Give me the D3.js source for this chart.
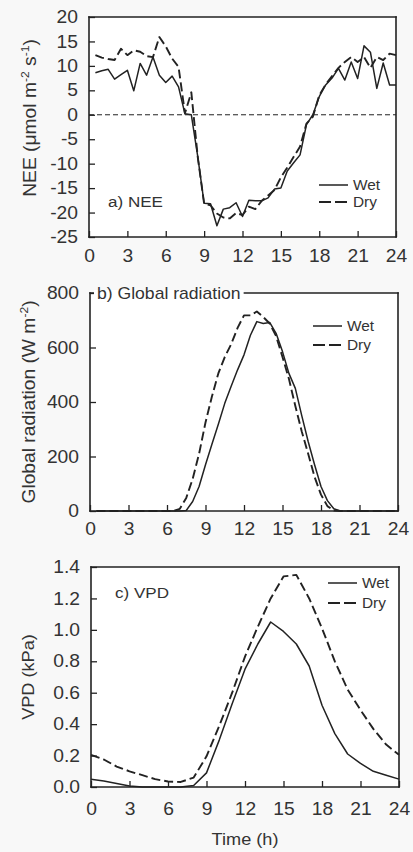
<!DOCTYPE html>
<html>
<head>
<meta charset="utf-8">
<script src="https://cdn.jsdelivr.net/npm/d3@7"></script>
<style>
  body { margin: 0; background: #f8f8f8; }
  svg { display: block; }
  text { font-family: "Liberation Sans", Arial, sans-serif; fill: #333; }
</style>
</head>
<body>
<div id="chart"></div>
<script>
// half-hourly NEE (umol m-2 s-1)
const neeHours = [0.5,1,1.5,2,2.5,3,3.5,4,4.5,5,5.5,6,6.5,7,7.5,8,8.5,9,9.5,10,10.5,11,11.5,12,
  12.5,13,13.5,14,14.5,15,15.5,16,16.5,17,17.5,18,18.5,19,19.5,20,20.5,21,21.5,22,22.5,23,23.5,24];
const neeWet = [8.6,9.0,9.3,7.3,8.2,9.1,4.9,10.5,8.1,11.8,8.1,6.6,7.9,5.7,0.2,0.0,-8.5,-18.1,-18.2,-22.7,
  -19.3,-19.0,-18.0,-20.8,-17.5,-17.6,-17.6,-17.0,-15.2,-15.0,-11.5,-9.8,-8.2,-2.0,0.0,3.7,6.1,7.5,9.5,7.1,
  10.8,7.4,14.1,12.8,5.4,10.6,6.1,6.1];
const neeDry = [12.2,11.7,11.4,11.2,13.5,12.2,13.2,12.9,12.0,11.8,15.9,14.0,11.5,9.8,0.3,4.6,-8.6,-18.2,-18.5,-20.2,
  -21.0,-21.2,-20.1,-20.5,-18.8,-19.3,-17.6,-16.5,-15.4,-12.8,-10.8,-8.6,-6.5,-1.8,-0.4,4.0,6.2,7.9,9.6,10.8,
  11.8,10.8,11.8,9.6,11.8,11.2,12.5,12.2];

// global radiation (W m-2), same half-hourly times
const radWet = [0,0,0,0,0,0,0,0,0,0,0,0,0,0,2,35,90,170,245,318,395,458,518,573,
  645,695,688,692,652,585,505,450,350,255,170,90,38,8,0,0,0,0,0,0,0,0,0,0];
const radDry = [0,0,0,0,0,0,0,0,0,0,0,0,0,8,48,118,210,325,420,505,565,612,672,718,
  718,732,712,688,642,565,485,385,292,210,125,60,18,2,0,0,0,0,0,0,0,0,0,0];

// hourly VPD (kPa)
const vpdHours = [0,1,2,3,4,5,6,7,8,9,10,11,12,13,14,15,16,17,18,19,20,21,22,23,24];
const vpdWet = [0.05,0.038,0.022,0.006,0,0,0,0,0.01,0.09,0.30,0.53,0.75,0.91,1.05,0.99,0.91,0.77,0.52,0.34,0.21,0.15,0.10,0.075,0.05];
const vpdDry = [0.205,0.175,0.13,0.10,0.075,0.05,0.035,0.032,0.06,0.195,0.39,0.60,0.83,1.02,1.20,1.34,1.35,1.20,1.01,0.80,0.62,0.49,0.37,0.27,0.205];

const hourTicks = [0,3,6,9,12,15,18,21,24];
const neeTicks = [-25,-20,-15,-10,-5,0,5,10,15,20];
const radTicks = [0,200,400,600,800];
const vpdTicks = [0,0.2,0.4,0.6,0.8,1.0,1.2,1.4];
const seriesNames = ["Wet", "Dry"];

const W = 413, H = 852;
const SX = 1.1; // fonts in the figure are a bit wide
const ink = "#222";

const svg = d3.select("#chart").append("svg")
  .attr("width", W).attr("height", H);

function panel(p) {
  const x = d3.scaleLinear().domain([0, 24]).range([p.left, p.right]);
  const y = d3.scaleLinear().domain(p.yDomain).range([p.bottom, p.top]);
  const g = svg.append("g");

  g.append("rect")
    .attr("x", p.left).attr("y", p.top)
    .attr("width", p.right - p.left).attr("height", p.bottom - p.top)
    .attr("fill", "#fff");

  const xAxis = g.append("g")
    .attr("transform", `translate(0,${p.bottom})`)
    .call(d3.axisBottom(x).tickValues(hourTicks).tickSizeInner(-6).tickSizeOuter(0).tickPadding(p.xPad));
  const yAxis = g.append("g")
    .attr("transform", `translate(${p.left},0)`)
    .call(d3.axisLeft(y).tickValues(p.yTicks).tickFormat(p.fmt).tickSizeInner(-6).tickSizeOuter(0).tickPadding(11));
  [xAxis, yAxis].forEach(a => {
    a.select(".domain").remove();
    a.selectAll("line").attr("stroke", ink).attr("stroke-width", 1.3);
    a.selectAll("text").attr("font-size", 17.5).attr("fill", "#333")
      .attr("font-family", "Liberation Sans, Arial, sans-serif")
      .attr("transform", `scale(${SX},1)`);
  });
  yAxis.selectAll("text").attr("x", -11 / SX);

  if (p.zero) {
    g.append("line")
      .attr("x1", p.left).attr("x2", p.right)
      .attr("y1", y(0)).attr("y2", y(0))
      .attr("stroke", ink).attr("stroke-width", 1)
      .attr("stroke-dasharray", "5,3");
  }

  const line = d3.line()
    .x(d => x(d[0]))
    .y(d => y(d[1]));
  const dashes = [null, "9,4"];
  [p.wet, p.dry].forEach((vals, i) => {
    g.append("path")
      .datum(p.hours.map((h, j) => [h, vals[j]]))
      .attr("d", line)
      .attr("fill", "none")
      .attr("stroke", ink)
      .attr("stroke-width", i ? 1.9 : 1.5)
      .attr("stroke-linejoin", "round")
      .attr("stroke-dasharray", dashes[i]);
  });

  // frame, one line per side
  const [x0, x1] = x.range(), [y0, y1] = y.range();
  [[x0, y0, x1, y0], [x0, y1, x1, y1], [x0, y0, x0, y1], [x1, y0, x1, y1]].forEach(s => {
    g.append("line")
      .attr("x1", s[0]).attr("y1", s[1]).attr("x2", s[2]).attr("y2", s[3])
      .attr("stroke", ink)
      .attr("stroke-width", 1.6)
      .attr("stroke-linecap", "square");
  });

  // panel title
  const title = g.append("text")
    .attr("transform", `translate(${p.tx},${p.ty}) scale(${SX},1)`)
    .attr("font-size", p.tSize)
    .text(p.title);
  if (p.titleOnFrame) {
    const bb = title.node().getBBox();
    g.insert("rect", () => title.node())
      .attr("x", p.tx - 3).attr("y", p.top - 3)
      .attr("width", bb.width * SX + 6).attr("height", 6)
      .attr("fill", "#fff");
  }

  // legend
  seriesNames.forEach((name, i) => {
    const ly = p.ly + i * p.lgap;
    g.append("line")
      .attr("x1", p.lx).attr("x2", p.lx + 29)
      .attr("y1", ly).attr("y2", ly)
      .attr("stroke", ink).attr("stroke-width", i ? 1.9 : 1.5)
      .attr("stroke-dasharray", i ? "12,4" : null);
    g.append("text")
      .attr("transform", `translate(${p.lx + 34},${ly + 5}) scale(${SX},1)`)
      .attr("font-size", 14)
      .text(name);
  });

  // y label
  const yl = g.append("text")
    .attr("transform", `translate(${p.ylx},${p.yly}) rotate(-90) scale(${SX},1)`)
    .attr("text-anchor", "middle")
    .attr("font-size", p.ylSize);
  p.ylabel(yl);
}

const plainInt = d => String(d);

panel({
  left: 89, right: 396, top: 17, bottom: 237,
  yDomain: [-25, 20], yTicks: neeTicks, fmt: plainInt,
  hours: neeHours, wet: neeWet, dry: neeDry, zero: true, xPad: 12.5,
  title: "a) NEE", tx: 108, ty: 207, tSize: 15.5,
  lx: 319, ly: 185, lgap: 17,
  ylx: 36, yly: 118, ylSize: 17.5,
  ylabel: t => {
    t.append("tspan").text("NEE (μmol m");
    t.append("tspan").attr("font-size", 11).attr("dy", -7).text("-2");
    t.append("tspan").attr("dy", 7).text(" s");
    t.append("tspan").attr("font-size", 11).attr("dy", -7).text("-1");
    t.append("tspan").attr("dy", 7).text(")");
  }
});

panel({
  left: 90, right: 398, top: 293, bottom: 511,
  yDomain: [0, 800], yTicks: radTicks, fmt: plainInt,
  hours: neeHours, wet: radWet, dry: radDry, zero: false, xPad: 12,
  title: "b) Global radiation", tx: 97, ty: 298.5, tSize: 16, titleOnFrame: true,
  lx: 313, ly: 326, lgap: 19,
  ylx: 35, yly: 402, ylSize: 17.5,
  ylabel: t => {
    t.append("tspan").text("Global radiation (W m");
    t.append("tspan").attr("font-size", 11).attr("dy", -7).text("-2");
    t.append("tspan").attr("dy", 7).text(")");
  }
});

panel({
  left: 91, right: 399, top: 567, bottom: 787,
  yDomain: [0, 1.4], yTicks: vpdTicks, fmt: d3.format(".1f"),
  hours: vpdHours, wet: vpdWet, dry: vpdDry, zero: false, xPad: 15.5,
  title: "c) VPD", tx: 115, ty: 598, tSize: 15.5,
  lx: 328, ly: 583, lgap: 20,
  ylx: 34, yly: 677, ylSize: 16.5,
  ylabel: t => t.text("VPD (kPa)")
});

svg.append("text")
  .attr("transform", `translate(245,845) scale(${SX},1)`)
  .attr("text-anchor", "middle")
  .attr("font-size", 16.5)
  .text("Time (h)");
</script>
</body>
</html>
